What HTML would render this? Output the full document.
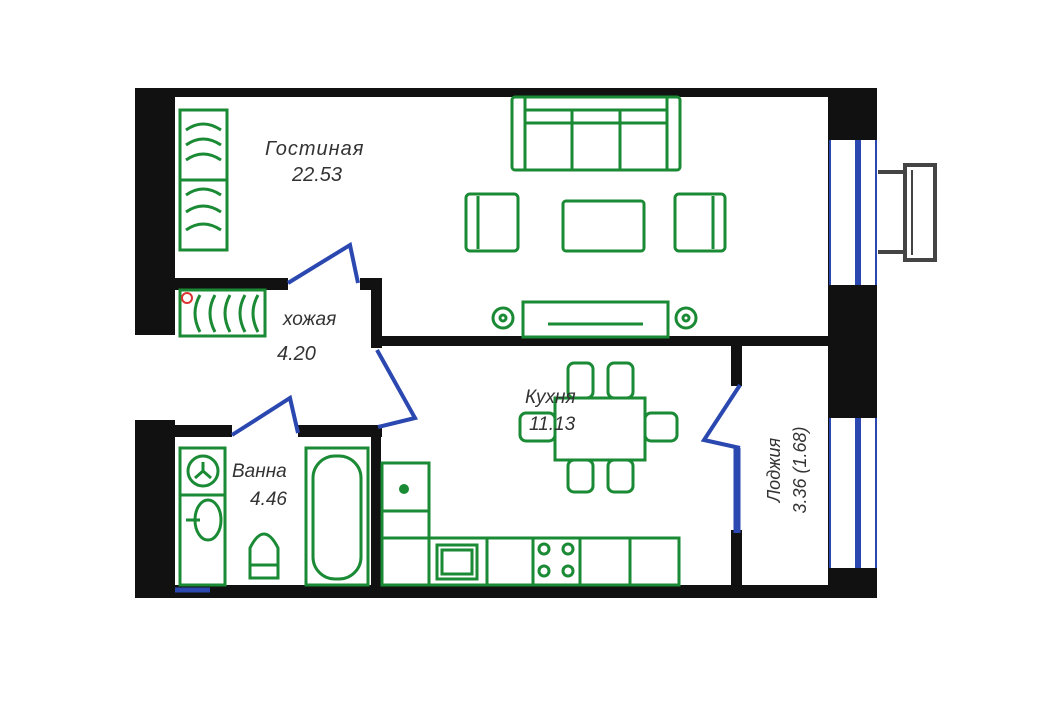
<!DOCTYPE html>
<html><head><meta charset="utf-8"><style>
html,body{margin:0;padding:0;background:#fff;}
svg{display:block;}
text{font-family:"Liberation Sans","DejaVu Sans",sans-serif;font-style:italic;fill:#333;}
</style></head><body>
<svg width="1063" height="709" viewBox="0 0 1063 709" xmlns="http://www.w3.org/2000/svg">
<rect width="1063" height="709" fill="#fff"/>
<!-- balcony outside -->
<g fill="none" stroke="#444" stroke-width="4">
<rect x="905" y="165" width="30" height="95"/>
<line x1="878" y1="172" x2="905" y2="172"/><line x1="878" y1="252" x2="905" y2="252"/>
<line x1="912" y1="170" x2="912" y2="255" stroke-width="2"/>
</g>
<!-- walls -->
<g fill="#111">
<rect x="135" y="88" width="742" height="9"/>
<rect x="135" y="88" width="40" height="247"/>
<rect x="135" y="420" width="40" height="178"/>
<rect x="135" y="585" width="742" height="13"/>
<rect x="828" y="88" width="49" height="510"/>
<rect x="175" y="278" width="113" height="12"/>
<rect x="360" y="278" width="22" height="12"/>
<rect x="371" y="278" width="11" height="70"/>
<rect x="371" y="336" width="457" height="10"/>
<rect x="175" y="425" width="57" height="12"/>
<rect x="298" y="425" width="84" height="12"/>
<rect x="371" y="425" width="10" height="165"/>
<rect x="731" y="346" width="11" height="40"/>
<rect x="731" y="530" width="11" height="58"/>
</g>
<!-- windows -->
<g>
<rect x="829" y="140" width="48" height="145" fill="#fff"/>
<rect x="829" y="418" width="48" height="150" fill="#fff"/>
<g stroke="#2a48b0" fill="none">
<line x1="830" y1="140" x2="830" y2="285" stroke-width="2"/>
<line x1="858" y1="140" x2="858" y2="285" stroke-width="6"/>
<line x1="876" y1="140" x2="876" y2="285" stroke-width="2"/>
<line x1="830" y1="418" x2="830" y2="568" stroke-width="2"/>
<line x1="858" y1="418" x2="858" y2="568" stroke-width="6"/>
<line x1="876" y1="418" x2="876" y2="568" stroke-width="2"/>
</g>
</g>
<!-- doors -->
<g stroke="#2a48b0" stroke-width="4" fill="none">
<polyline points="288,283 350,245 358,283"/>
<polyline points="377,350 415,418 378,427"/>
<polyline points="232,435 290,398 298,433"/>
<polyline points="740,385 704,440 740,448"/>
<line x1="737" y1="448" x2="737" y2="533" stroke-width="7"/>
<line x1="175" y1="590" x2="210" y2="590" stroke-width="5"/>
</g>
<!-- furniture -->
<g stroke="#1a8a35" stroke-width="3" fill="none">
<!-- wardrobe -->
<rect x="180" y="110" width="47" height="140"/>
<line x1="180" y1="180" x2="227" y2="180"/>
<path d="M186 130 Q203 118 221 130 M186 145 Q203 133 221 145 M186 160 Q203 148 221 160 M186 195 Q203 183 221 195 M186 212 Q203 200 221 212 M186 230 Q203 218 221 230"/>
<!-- shoe rack -->
<rect x="180" y="290" width="85" height="46"/>
<path d="M200 295 Q190 313 200 332 M215 295 Q205 313 215 332 M230 295 Q220 313 230 332 M245 295 Q235 313 245 332 M258 295 Q248 313 258 332"/>
<!-- sofa -->
<rect x="512" y="97" width="168" height="73" rx="3"/>
<line x1="525" y1="97" x2="525" y2="170"/><line x1="667" y1="97" x2="667" y2="170"/>
<line x1="525" y1="110" x2="667" y2="110"/><line x1="525" y1="123" x2="667" y2="123"/>
<line x1="572" y1="110" x2="572" y2="170"/><line x1="620" y1="110" x2="620" y2="170"/>
<!-- armchairs -->
<rect x="466" y="194" width="52" height="57" rx="4"/><line x1="478" y1="196" x2="478" y2="249"/>
<rect x="675" y="194" width="50" height="57" rx="4"/><line x1="713" y1="196" x2="713" y2="249"/>
<rect x="563" y="201" width="81" height="50" rx="3"/>
<!-- tv -->
<rect x="523" y="302" width="145" height="35"/>
<line x1="548" y1="324" x2="643" y2="324"/>
<circle cx="503" cy="318" r="10"/><circle cx="503" cy="318" r="3"/>
<circle cx="686" cy="318" r="10"/><circle cx="686" cy="318" r="3"/>
<!-- dining -->
<rect x="555" y="398" width="90" height="62"/>
<rect x="568" y="363" width="25" height="35" rx="6"/><rect x="608" y="363" width="25" height="35" rx="6"/>
<rect x="568" y="460" width="25" height="32" rx="6"/><rect x="608" y="460" width="25" height="32" rx="6"/>
<rect x="520" y="413" width="35" height="28" rx="6"/><rect x="645" y="413" width="32" height="28" rx="6"/>
<!-- kitchen -->
<rect x="382" y="463" width="47" height="48"/><rect x="382" y="511" width="47" height="27"/>
<rect x="382" y="538" width="297" height="47"/>
<line x1="429" y1="538" x2="429" y2="585"/><line x1="487" y1="538" x2="487" y2="585"/>
<line x1="533" y1="538" x2="533" y2="585"/><line x1="580" y1="538" x2="580" y2="585"/>
<line x1="630" y1="538" x2="630" y2="585"/>
<rect x="437" y="545" width="40" height="34"/><rect x="442" y="550" width="30" height="24"/>
<circle cx="544" cy="549" r="5"/><circle cx="568" cy="549" r="5"/><circle cx="544" cy="571" r="5"/><circle cx="568" cy="571" r="5"/>
<!-- bathroom -->
<rect x="180" y="448" width="45" height="137"/><line x1="180" y1="495" x2="225" y2="495"/>
<circle cx="203" cy="471" r="15"/><path d="M203 471 L203 462 M203 471 L195 478 M203 471 L211 478"/>
<ellipse cx="208" cy="520" rx="13" ry="20"/><line x1="186" y1="520" x2="200" y2="520"/>
<path d="M250 578 L250 548 Q264 520 278 548 L278 578 Z"/><line x1="250" y1="565" x2="278" y2="565"/>
<rect x="306" y="448" width="62" height="137"/><rect x="313" y="456" width="48" height="123" rx="22"/>
</g>
<circle cx="404" cy="489" r="5" fill="#1a8a35"/>
<circle cx="187" cy="298" r="5" fill="none" stroke="#d33" stroke-width="2"/>
<!-- labels -->
<text x="265" y="155" font-size="20" letter-spacing="1">Гостиная</text>
<text x="292" y="181" font-size="20">22.53</text>
<text x="283" y="325" font-size="19">хожая</text>
<text x="277" y="360" font-size="20">4.20</text>
<text x="232" y="477" font-size="19">Ванна</text>
<text x="250" y="505" font-size="19">4.46</text>
<text x="525" y="403" font-size="19">Кухня</text>
<text x="529" y="430" font-size="19">11.13</text>
<text transform="translate(780,470) rotate(-90)" text-anchor="middle" font-size="18">Лоджия</text>
<text transform="translate(806,470) rotate(-90)" text-anchor="middle" font-size="18">3.36 (1.68)</text>
</svg>
</body></html>
